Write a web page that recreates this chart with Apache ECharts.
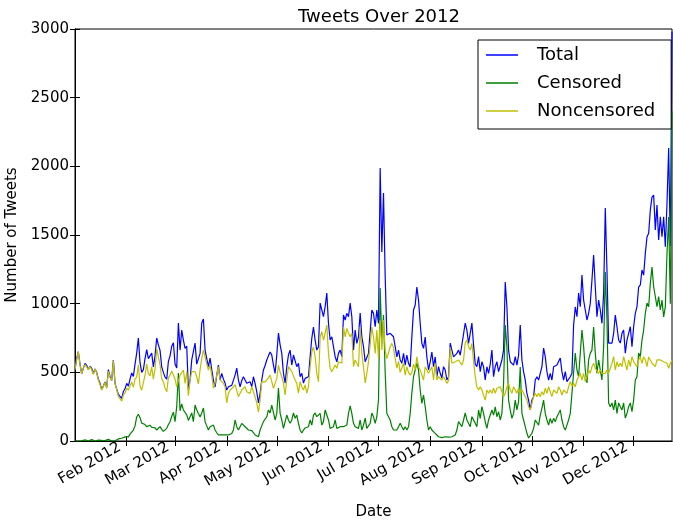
<!DOCTYPE html>
<html>
<head>
<meta charset="utf-8">
<script src="https://cdn.jsdelivr.net/npm/echarts@6/dist/echarts.min.js"></script>
<style>
  html, body { margin: 0; padding: 0; background: #fff; }
  #chart { width: 673px; height: 521px; }
</style>
</head>
<body>
<div id="chart"></div>
<script>
// Daily tweet counts, starting 1 Jan 2012
const startYear = 2012;

const total = [
  520, 600, 650, 560, 490, 530, 565, 550, 520, 545,
  530, 490, 525, 500, 450, 420, 375, 400, 430, 390,
  520, 470, 440, 590, 420, 380, 340, 330, 310, 360,
  380, 420, 400, 450, 495, 470, 560, 640, 750, 570,
  500, 520, 600, 665, 600, 590, 640, 540, 620, 750,
  700, 660, 540, 500, 465, 450, 580, 620, 690, 715,
  560, 531, 859, 662, 808, 735, 675, 690, 371, 444,
  590, 600, 713, 560, 553, 638, 859, 888, 662, 600,
  541, 604, 520, 444, 393, 480, 553, 444, 493, 450,
  422, 371, 395, 400, 405, 408, 480, 531, 444, 395,
  440, 468, 468, 420, 425, 432, 395, 468, 420, 357,
  277, 347, 444, 517, 550, 590, 620, 648, 626, 553,
  493, 626, 786, 700, 638, 493, 422, 541, 626, 662,
  553, 626, 640, 541, 566, 468, 493, 422, 456, 468,
  468, 614, 748, 830, 735, 662, 687, 1004, 1014, 905,
  978, 1077, 857, 735, 759, 748, 614, 577, 638, 662,
  614, 917, 881, 930, 905, 1004, 905, 662, 808, 711,
  759, 932, 759, 687, 577, 577, 638, 626, 954, 930,
  832, 954, 857, 1987, 1376, 1805, 1200, 772, 759, 784,
  786, 759, 687, 612, 662, 590, 566, 638, 553, 626,
  566, 539, 759, 954, 990, 1121, 1026, 857, 711, 675,
  757, 612, 517, 577, 648, 541, 612, 468, 541, 493,
  459, 541, 517, 444, 468, 713, 662, 612, 602, 638,
  662, 626, 699, 687, 859, 808, 711, 784, 859, 700,
  560, 541, 614, 505, 577, 541, 444, 541, 493, 560,
  662, 468, 541, 577, 505, 505, 590, 662, 1157, 978,
  662, 577, 566, 553, 614, 553, 626, 845, 590, 505,
  444, 347, 298, 226, 298, 323, 444, 468, 444, 493,
  541, 677, 614, 505, 444, 493, 444, 541, 529, 553,
  566, 604, 505, 444, 505, 432, 444, 468, 493, 845,
  976, 905, 1077, 978, 1208, 1026, 954, 881, 930, 1002,
  1172, 1354, 1123, 905, 1026, 954, 857, 1075, 1696, 1245,
  713, 713, 713, 784, 917, 832, 735, 713, 784, 808,
  640, 735, 784, 832, 687, 832, 930, 978, 1121, 1136,
  1245, 1208, 1366, 1485, 1512, 1682, 1776, 1791, 1536, 1718,
  1463, 1633, 1487, 1633, 1414, 1730, 2133, 1420, 2980
];

const censored = [
  0, 3, 0, 5, 2, 0, 8, 4, 0, 3,
  10, 5, 0, 2, 6, 10, 4, 0, 3, 8,
  12, 5, 0, 4, 2, 5, 15, 18, 20, 25,
  30, 35, 30, 50, 65, 80, 110, 175, 195, 170,
  130, 140, 120, 105, 110, 115, 100, 90, 95, 80,
  90, 105, 85, 70, 80, 92, 120, 140, 180, 210,
  141, 250, 495, 220, 270, 226, 214, 190, 150, 153,
  204, 141, 262, 226, 200, 175, 204, 240, 141, 110,
  80, 104, 110, 116, 80, 60, 44, 55, 44, 40,
  44, 44, 44, 50, 55, 80, 153, 104, 80, 68,
  128, 133, 104, 90, 80, 68, 75, 80, 44, 40,
  31, 80, 68, 141, 160, 175, 226, 204, 262, 250,
  153, 201, 386, 201, 153, 92, 104, 189, 153, 129,
  153, 204, 165, 189, 129, 80, 58, 80, 95, 104,
  104, 153, 116, 189, 204, 177, 189, 201, 116, 141,
  226, 213, 153, 92, 80, 104, 153, 92, 80, 104,
  92, 104, 104, 116, 201, 255, 201, 129, 104, 116,
  92, 153, 80, 116, 167, 92, 104, 129, 204, 177,
  129, 177, 300, 1114, 711, 917, 500, 200, 177, 153,
  104, 80, 92, 80, 104, 129, 104, 80, 104, 80,
  104, 201, 349, 468, 517, 568, 517, 371, 274, 335,
  250, 153, 80, 104, 80, 92, 56, 68, 31, 22,
  25, 20, 31, 25, 28, 31, 31, 44, 44, 80,
  141, 129, 104, 153, 204, 153, 153, 104, 177, 190,
  130, 104, 226, 165, 250, 201, 141, 92, 153, 165,
  226, 189, 248, 177, 213, 153, 201, 422, 845, 687,
  298, 226, 165, 201, 298, 226, 286, 539, 201, 153,
  104, 56, 22, 22, 56, 92, 153, 141, 116, 189,
  238, 298, 201, 153, 116, 165, 129, 165, 141, 177,
  201, 226, 153, 104, 80, 116, 153, 201, 347, 500,
  640, 517, 468, 640, 808, 687, 517, 422, 590, 640,
  662, 830, 640, 493, 590, 517, 444, 687, 1230, 881,
  277, 250, 277, 226, 298, 201, 277, 250, 226, 277,
  167, 201, 250, 277, 213, 298, 444, 468, 640, 614,
  735, 808, 930, 1004, 978, 1148, 1267, 1123, 1123, 978,
  1051, 954, 1026, 903, 978, 1366, 1631, 1000, 2400
];

const noncensored = [
  520, 597, 650, 555, 488, 530, 557, 546, 520, 542,
  520, 485, 525, 498, 444, 410, 371, 400, 427, 382,
  508, 465, 440, 586, 418, 375, 325, 312, 290, 335,
  350, 385, 370, 400, 430, 390, 450, 465, 555, 400,
  370, 380, 480, 560, 490, 475, 540, 450, 525, 670,
  610, 555, 455, 430, 385, 358, 460, 480, 510, 505,
  450, 395, 400, 480, 466, 517, 420, 505, 330, 444,
  505, 517, 505, 468, 415, 517, 600, 662, 650, 560,
  517, 553, 480, 384, 420, 480, 541, 444, 432, 420,
  395, 277, 347, 370, 384, 395, 410, 420, 323, 335,
  371, 380, 395, 359, 350, 347, 395, 359, 320, 277,
  211, 298, 432, 420, 430, 444, 460, 480, 432, 384,
  420, 456, 553, 500, 468, 420, 335, 444, 541, 553,
  505, 517, 444, 420, 349, 432, 395, 371, 408, 349,
  395, 541, 650, 684, 614, 493, 432, 757, 796, 735,
  784, 845, 638, 529, 505, 517, 553, 529, 577, 590,
  566, 830, 759, 820, 784, 759, 784, 541, 590, 577,
  541, 830, 638, 541, 422, 493, 577, 590, 830, 759,
  638, 808, 600, 881, 662, 881, 662, 600, 640, 687,
  711, 680, 600, 531, 580, 500, 500, 566, 480, 541,
  500, 480, 500, 560, 520, 612, 541, 517, 480, 444,
  541, 517, 493, 500, 541, 444, 566, 444, 468, 468,
  444, 468, 468, 420, 440, 684, 566, 566, 577, 566,
  590, 590, 553, 590, 713, 735, 687, 662, 711, 580,
  470, 393, 371, 395, 371, 359, 298, 371, 347, 371,
  347, 384, 347, 384, 371, 395, 359, 323, 347, 395,
  420, 371, 347, 395, 384, 347, 384, 347, 371, 347,
  323, 298, 250, 226, 274, 323, 347, 323, 347, 323,
  359, 335, 384, 347, 395, 359, 323, 371, 384, 347,
  395, 371, 335, 371, 371, 347, 395, 432, 400, 420,
  395, 444, 432, 493, 444, 493, 432, 468, 517, 493,
  541, 566, 529, 517, 493, 517, 493, 505, 493, 517,
  493, 493, 566, 614, 517, 577, 541, 566, 541, 614,
  566, 517, 590, 541, 614, 577, 590, 541, 590, 614,
  566, 614, 590, 541, 612, 600, 566, 577, 541, 590,
  577, 590, 600, 577, 590, 566, 530, 566, 590
];

const seriesNames = ['Total', 'Censored', 'Noncensored'];
const seriesColors = ['#0000ff', '#008000', '#bfbf00'];
const tickLabels = ['Feb 2012', 'Mar 2012', 'Apr 2012', 'May 2012', 'Jun 2012', 'Jul 2012',
                    'Aug 2012', 'Sep 2012', 'Oct 2012', 'Nov 2012', 'Dec 2012'];

const font = 'DejaVu Sans';
const DAY = 86400000;
const yearStart = Date.UTC(startYear, 0, 1);
// day-of-year index of the first day of each labelled month
const monthTicks = tickLabels.map((_, k) => Math.round((Date.UTC(startYear, k + 1, 1) - yearStart) / DAY));
const toPairs = arr => arr.map((v, i) => [i, v]);
const xMin = 0;
const xMax = total.length - 1;

const tickStyle = { show: true, inside: true, length: 5, lineStyle: { color: '#000', width: 1 } };
const axisLineStyle = { show: true, lineStyle: { color: '#000', width: 1 } };

function xAxisCfg(position, showLabels) {
  return {
    type: 'value', position: position, min: xMin, max: xMax,
    axisLine: axisLineStyle,
    axisTick: Object.assign({ customValues: monthTicks }, tickStyle),
    axisLabel: showLabels ? {
      customValues: monthTicks,
      rotate: 30, margin: 1,
      padding: [0, 8, 0, 0],
      fontFamily: font, fontSize: 15, color: '#000',
      formatter: v => tickLabels[monthTicks.indexOf(Math.round(+v))] || ''
    } : { show: false },
    splitLine: { show: false },
    name: showLabels ? 'Date' : '',
    nameLocation: 'middle', nameGap: 64,
    nameTextStyle: { fontFamily: font, fontSize: 15, color: '#000' }
  };
}

function yAxisCfg(position, showLabels) {
  return {
    type: 'value', position: position, min: 0, max: 3000, interval: 500,
    axisLine: axisLineStyle,
    axisTick: tickStyle,
    axisLabel: showLabels ? {
      fontFamily: font, fontSize: 15, color: '#000', margin: 6,
      formatter: v => String(v)
    } : { show: false },
    splitLine: { show: false },
    name: showLabels ? 'Number of Tweets' : '',
    nameLocation: 'middle', nameGap: 47, nameRotate: 90,
    nameTextStyle: { fontFamily: font, fontSize: 15, color: '#000' }
  };
}

const chart = echarts.init(document.getElementById('chart'), null, { renderer: 'canvas' });
chart.setOption({
  animation: false,
  backgroundColor: '#fff',
  title: {
    text: 'Tweets Over 2012',
    left: 374, top: 3, textAlign: 'center',
    textStyle: { fontFamily: font, fontSize: 18, fontWeight: 'normal', color: '#000' }
  },
  grid: {
    left: 75, right: 1, top: 29, bottom: 80,
    containLabel: false, outerBoundsMode: 'none',
    show: true, borderColor: '#000', borderWidth: 1
  },
  xAxis: [xAxisCfg('bottom', true), xAxisCfg('top', false)],
  yAxis: [yAxisCfg('left', true), yAxisCfg('right', false)],
  legend: {
    data: seriesNames,
    orient: 'vertical',
    left: 478, top: 40,
    padding: [6, 16, 9, 8],
    itemGap: 10,
    itemWidth: 32, itemHeight: 1.5,
    icon: 'rect',
    borderColor: '#000', borderWidth: 1, backgroundColor: '#fff',
    formatter: name => '{t|' + name + '}',
    textStyle: { rich: { t: { fontFamily: font, fontSize: 18, color: '#000', padding: [0, 0, 0, 14] } } }
  },
  series: [total, censored, noncensored].map((arr, k) => ({
    name: seriesNames[k],
    type: 'line',
    xAxisIndex: 0, yAxisIndex: 0,
    data: toPairs(arr),
    showSymbol: false, symbol: 'none',
    color: seriesColors[k],
    lineStyle: { color: seriesColors[k], width: 1.2 },
    emphasis: { disabled: true },
    z: 2 + k
  }))
});
</script>
</body>
</html>
